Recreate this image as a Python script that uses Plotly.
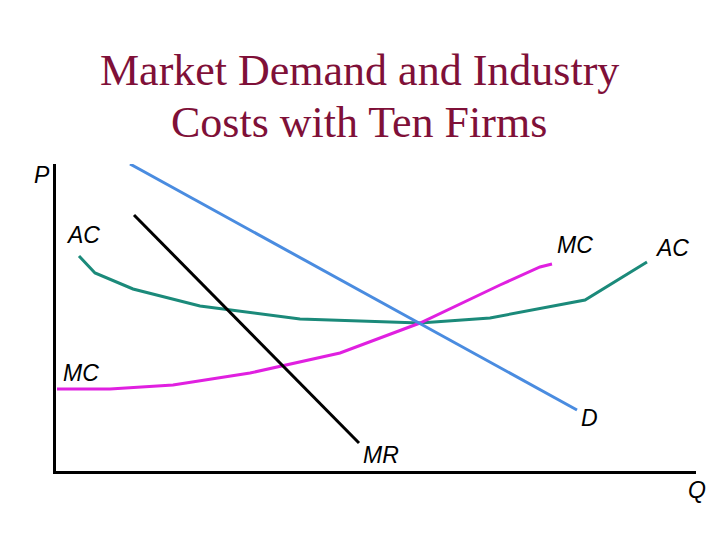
import plotly.graph_objects as go

# Quantities / prices (data units: origin at the axes corner)
demand_q = [74, 521]
demand_p = [307, 61]

mr_q = [78, 303]
mr_p = [256, 28]

ac_q = [23, 39, 77, 144, 244, 324, 364, 434, 529, 591]
ac_p = [215, 198, 182, 165, 152, 149, 148, 153, 171, 209]

mc_q = [1, 54, 117, 194, 284, 364, 444, 484, 496]
mc_p = [82, 82, 86, 98, 118, 148, 186, 204, 207]

labels = ["P", "AC", "MC", "AC", "MC", "D", "MR", "Q"]
label_q = [-14, 27, 519, 616, 25, 533, 325, 641]
label_p = [296, 236, 226, 223, 98, 53, 16, -19]

title_lines = ["Market Demand and Industry", "Costs with Ten Firms"]

W, H = 720, 540
OFF = 8  # page body offset compensation
XR, YR = [0, 640], [0, 307]
XD = [(56 - OFF) / W, (696 - OFF) / W]
YD = [1 - (471 - OFF) / H, 1 - (164 - OFF) / H]

def to_paper(q, p):
    xp = XD[0] + (q - XR[0]) / (XR[1] - XR[0]) * (XD[1] - XD[0])
    yp = YD[0] + (p - YR[0]) / (YR[1] - YR[0]) * (YD[1] - YD[0])
    return xp, yp

fig = go.Figure()
fig.add_trace(go.Scatter(x=ac_q, y=ac_p, mode="lines", line=dict(color="#1B8A7A", width=3)))
fig.add_trace(go.Scatter(x=mc_q, y=mc_p, mode="lines", line=dict(color="#E020E0", width=3)))
fig.add_trace(go.Scatter(x=demand_q, y=demand_p, mode="lines", line=dict(color="#4A8CE0", width=3)))
fig.add_trace(go.Scatter(x=mr_q, y=mr_p, mode="lines", line=dict(color="black", width=3)))

for t, q, p in zip(labels, label_q, label_p):
    xp, yp = to_paper(q, p)
    fig.add_annotation(x=xp, y=yp, xref="paper", yref="paper", xanchor="center", yanchor="middle",
                       text="<i>" + t + "</i>", showarrow=False,
                       font=dict(family="Liberation Sans, Arial", size=23, color="black"))

for t, py in zip(title_lines, [70, 122]):
    fig.add_annotation(x=(359 - OFF) / W, y=1 - (py - OFF) / H, xref="paper", yref="paper",
                       xanchor="center", yanchor="middle", text=t, showarrow=False,
                       font=dict(family="Liberation Serif, Times New Roman", size=44, color="#7F1038"))

fig.update_layout(
    width=W, height=H, showlegend=False,
    paper_bgcolor="white", plot_bgcolor="white",
    margin=dict(l=0, r=0, t=0, b=0),
    xaxis=dict(domain=XD, range=XR, showgrid=False, zeroline=False,
               showticklabels=False, ticks="", showline=True, linecolor="black", linewidth=3, fixedrange=True),
    yaxis=dict(domain=YD, range=YR, showgrid=False, zeroline=False,
               showticklabels=False, ticks="", showline=True, linecolor="black", linewidth=3, fixedrange=True),
)
fig.write_html("out.html")
